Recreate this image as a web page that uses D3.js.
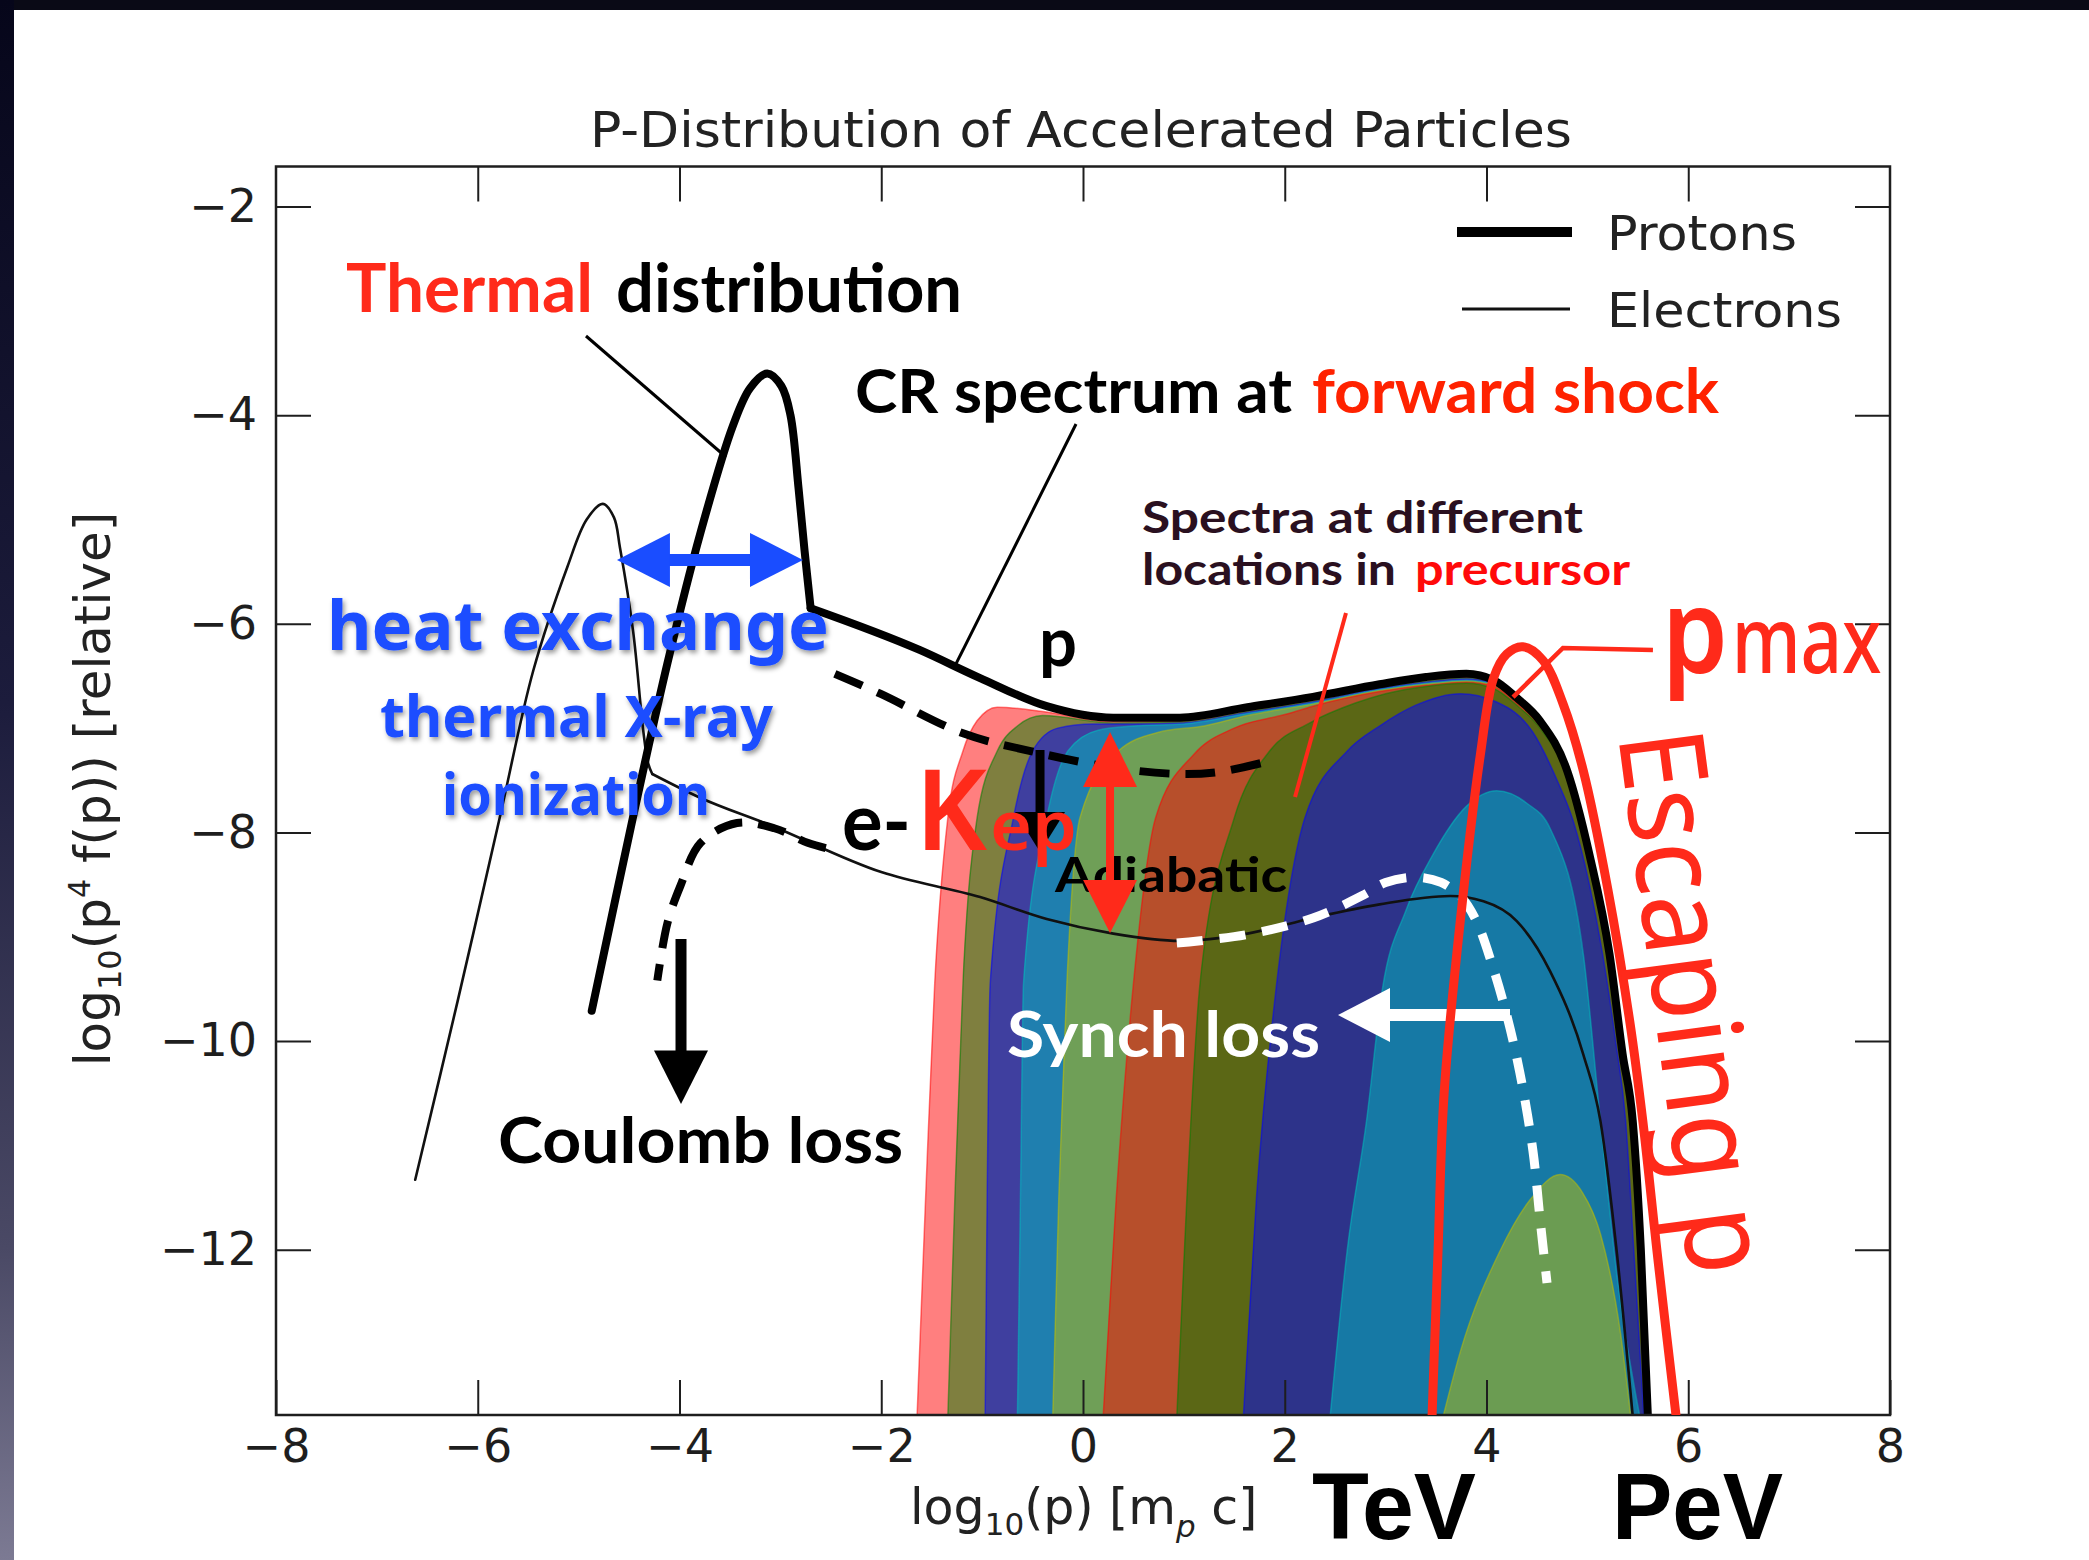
<!DOCTYPE html>
<html>
<head>
<meta charset="utf-8">
<script src="https://cdn.jsdelivr.net/npm/d3@7"></script>
<style>
  html, body { margin: 0; padding: 0; background: #fff; }
  svg { display: block; }
</style>
</head>
<body>
<svg id="chart" width="2089" height="1560"></svg>
<script>
// ---------- data: log10(p) [m_p c] vs log10(p^4 f(p)) ----------
const xTicks = [-8, -6, -4, -2, 0, 2, 4, 6, 8];
const yTicks = [-12, -10, -8, -6, -4, -2];

// proton spectrum at the forward shock (thermal peak + non-thermal tail)
const protonThermal = [[-4.87,-9.71],[-4.46,-7.85],[-4.12,-6.38],[-3.79,-5.12],[-3.47,-4.10],[-3.30,-3.74],[-3.13,-3.60],[-2.99,-3.72],[-2.90,-4.00],[-2.82,-4.70],[-2.76,-5.30],[-2.70,-5.85]];
const protonTail = [[-2.70,-5.85],[-1.62,-6.25],[-1.02,-6.52],[-0.36,-6.79],[0.30,-6.90],[0.96,-6.90],[1.63,-6.80],[2.28,-6.70],[2.94,-6.58],[3.40,-6.51],[3.80,-6.48],[4.07,-6.54],[4.30,-6.71],[4.53,-6.93],[4.80,-7.41],[5.02,-8.21],[5.22,-9.17],[5.35,-10.13],[5.45,-10.77],[5.53,-12.00],[5.60,-13.60]];

// electron spectrum at the forward shock
const electronThermal = [[-6.62,-11.33],[-6.20,-9.62],[-5.78,-7.85],[-5.45,-6.45],[-5.11,-5.45],[-4.92,-5.00],[-4.76,-4.85],[-4.65,-4.98],[-4.59,-5.27],[-4.46,-6.07],[-4.36,-7.02],[-4.31,-7.34],[-4.27,-7.44]];
const electronTail = [[-4.27,-7.44],[-3.79,-7.67],[-3.13,-7.92],[-2.00,-8.38],[-1.02,-8.62],[-0.36,-8.83],[0.30,-8.97],[0.96,-9.04],[1.63,-8.97],[2.28,-8.82],[2.94,-8.69],[3.64,-8.61],[3.97,-8.66],[4.30,-8.85],[4.63,-9.33],[4.96,-10.13],[5.13,-10.77],[5.29,-12.01],[5.45,-13.60]];

// proton spectra at successive locations upstream in the precursor
const precursor1 = [[-1.645,-13.6],[-1.56,-11.5],[-1.47,-9.45],[-1.34,-7.86],[-1.19,-7.22],[-1.05,-6.93],[-0.85,-6.80],[-0.40,-6.84],[0.30,-6.94],[1.00,-6.93],[1.63,-6.83],[2.28,-6.73],[2.94,-6.60],[3.40,-6.54],[3.80,-6.51],[4.07,-6.57],[4.30,-6.74],[4.53,-6.96],[4.80,-7.44],[5.02,-8.24],[5.22,-9.20],[5.35,-10.16],[5.45,-10.80],[5.52,-12.0],[5.585,-13.6]];
const precursor2 = [[-1.34,-13.6],[-1.27,-11.5],[-1.19,-9.45],[-1.05,-7.86],[-0.85,-7.22],[-0.65,-6.98],[-0.40,-6.88],[0.30,-6.95],[1.00,-6.94],[1.63,-6.84],[2.28,-6.74],[2.94,-6.61],[3.40,-6.55],[3.80,-6.52],[4.07,-6.57],[4.30,-6.74],[4.53,-6.96],[4.80,-7.44],[5.02,-8.24],[5.22,-9.20],[5.35,-10.16],[5.45,-10.80],[5.52,-12.0],[5.585,-13.6]];
const precursor3 = [[-0.97,-13.6],[-0.95,-11.5],[-0.92,-9.45],[-0.69,-7.86],[-0.50,-7.22],[-0.25,-7.00],[0.10,-6.96],[0.50,-6.96],[1.00,-6.95],[1.63,-6.85],[2.28,-6.75],[2.94,-6.62],[3.40,-6.56],[3.80,-6.53],[4.07,-6.57],[4.30,-6.74],[4.53,-6.96],[4.80,-7.44],[5.02,-8.24],[5.22,-9.20],[5.35,-10.16],[5.45,-10.80],[5.52,-12.0],[5.585,-13.6]];
const precursor4 = [[-0.65,-13.6],[-0.62,-11.5],[-0.59,-9.45],[-0.36,-7.86],[-0.15,-7.22],[0.15,-7.02],[0.50,-6.98],[1.00,-6.96],[1.63,-6.86],[2.28,-6.76],[2.94,-6.63],[3.40,-6.57],[3.80,-6.54],[4.07,-6.58],[4.30,-6.74],[4.53,-6.96],[4.80,-7.44],[5.02,-8.24],[5.22,-9.20],[5.35,-10.16],[5.45,-10.80],[5.52,-12.0],[5.585,-13.6]];
const precursor5 = [[-0.30,-13.6],[-0.24,-11.5],[-0.16,-9.45],[-0.03,-7.86],[0.35,-7.22],[0.75,-7.04],[1.20,-6.98],[1.63,-6.88],[2.28,-6.77],[2.94,-6.64],[3.40,-6.58],[3.80,-6.55],[4.07,-6.59],[4.30,-6.75],[4.53,-6.97],[4.80,-7.44],[5.02,-8.24],[5.22,-9.20],[5.35,-10.16],[5.45,-10.80],[5.52,-12.0],[5.585,-13.6]];
const precursor6 = [[0.20,-13.6],[0.33,-11.5],[0.50,-9.45],[0.72,-7.86],[1.10,-7.25],[1.50,-7.00],[2.00,-6.87],[2.28,-6.79],[2.94,-6.65],[3.40,-6.59],[3.80,-6.56],[4.07,-6.60],[4.30,-6.76],[4.53,-6.98],[4.80,-7.45],[5.02,-8.24],[5.22,-9.20],[5.35,-10.16],[5.45,-10.80],[5.52,-12.0],[5.585,-13.6]];
const precursor7 = [[0.93,-13.6],[1.03,-11.5],[1.16,-9.45],[1.50,-7.86],[1.85,-7.22],[2.25,-6.95],[2.70,-6.76],[3.00,-6.67],[3.40,-6.60],[3.80,-6.57],[4.07,-6.62],[4.30,-6.78],[4.53,-7.00],[4.80,-7.46],[5.02,-8.25],[5.22,-9.20],[5.35,-10.16],[5.45,-10.80],[5.52,-12.0],[5.585,-13.6]];
const precursor8 = [[1.59,-13.6],[1.72,-11.5],[1.92,-9.45],[2.20,-7.86],[2.62,-7.22],[2.94,-6.98],[3.30,-6.78],[3.74,-6.67],[4.10,-6.75],[4.46,-7.04],[4.70,-7.50],[4.86,-7.89],[5.02,-8.50],[5.15,-9.16],[5.28,-10.00],[5.38,-10.77],[5.46,-12.0],[5.56,-13.6]];
const precursor9 = [[2.45,-13.6],[2.62,-12.0],[2.81,-10.77],[2.97,-9.49],[3.20,-8.75],[3.47,-8.21],[3.80,-7.75],[4.10,-7.60],[4.40,-7.72],[4.63,-7.96],[4.96,-9.17],[5.13,-10.77],[5.30,-12.3],[5.52,-13.6]];
const precursor10 = [[3.57,-13.6],[3.74,-12.98],[4.13,-12.02],[4.45,-11.50],[4.73,-11.28],[4.95,-11.45],[5.13,-11.85],[5.33,-12.81],[5.43,-13.6]];
const precursorColors = ['#ff0000','#008000','#0000ff','#00bfbf','#bfbf00','#ff0000','#008000','#0000ff','#00bfbf','#bfbf00'];

// loss tracks and the escaping population
const adiabaticTrack = [[-2.46,-6.48],[-2.01,-6.67],[-1.19,-7.05],[-0.52,-7.22],[0.30,-7.38],[0.96,-7.44],[1.35,-7.42],[1.83,-7.32]];
const coulombTrack = [[-2.55,-8.15],[-2.73,-8.10],[-3.06,-7.96],[-3.43,-7.91],[-3.79,-8.10],[-3.99,-8.51],[-4.12,-8.87],[-4.22,-9.42]];
const synchTrack = [[0.93,-9.06],[1.62,-8.98],[2.28,-8.82],[2.78,-8.60],[3.00,-8.48],[3.30,-8.43],[3.55,-8.48],[3.75,-8.62],[3.90,-8.85],[4.05,-9.25],[4.20,-9.75],[4.33,-10.30],[4.46,-11.05],[4.53,-11.70],[4.60,-12.32]];
const escapingP = [[3.46,-13.60],[3.52,-12.00],[3.58,-10.50],[3.74,-8.85],[3.94,-7.25],[4.07,-6.52],[4.20,-6.29],[4.36,-6.22],[4.56,-6.35],[4.76,-6.77],[4.96,-7.41],[5.20,-8.53],[5.42,-9.81],[5.55,-10.77],[5.70,-12.10],[5.88,-13.60]];

// ---------- layout ----------
const W = 2089, H = 1560;
const plot = { left: 276, right: 1890, top: 166.5, bottom: 1415 };
const x = d3.scaleLinear().domain([-8, 8]).range([plot.left, plot.right]);
const y = d3.scaleLinear().domain([-13.585, -1.616]).range([plot.bottom, plot.top]);

const axisFont = "'DejaVu Sans', sans-serif";
const noteFont = "Lato, 'Open Sans', sans-serif";
const blueFont = "'Noto Sans', 'Open Sans', sans-serif";
const redFont = "'Noto Sans', 'Liberation Sans', sans-serif";
const RED = '#ff2a1a';
const BLUE = '#1a4dff';

const svg = d3.select('#chart');
const defs = svg.append('defs');
defs.append('clipPath').attr('id', 'plotClip')
  .append('rect').attr('x', plot.left).attr('y', plot.top)
  .attr('width', plot.right - plot.left).attr('height', plot.bottom - plot.top);
const grad = defs.append('linearGradient').attr('id', 'edgeGrad')
  .attr('x1', 0).attr('y1', 0).attr('x2', 0).attr('y2', 1);
[[0, '#06061a'], [0.45, '#1c1c3c'], [0.8, '#4a4965'], [1, '#7c7a93']]
  .forEach(([o, c]) => grad.append('stop').attr('offset', o).attr('stop-color', c));
const shadow = defs.append('filter').attr('id', 'blueShadow')
  .attr('x', '-10%').attr('y', '-40%').attr('width', '130%').attr('height', '180%');
shadow.append('feDropShadow').attr('dx', 2).attr('dy', 3).attr('stdDeviation', 2.5)
  .attr('flood-color', '#000').attr('flood-opacity', 0.4);

// page background with the dark slide edges
svg.append('rect').attr('width', W).attr('height', H).attr('fill', '#fff');
svg.append('rect').attr('x', 0).attr('y', 0).attr('width', W).attr('height', 10).attr('fill', '#0a0a16');
svg.append('rect').attr('x', 0).attr('y', 0).attr('width', 14).attr('height', H).attr('fill', 'url(#edgeGrad)');

// ---------- precursor spectra (stacked translucent fills) ----------
const area = d3.area()
  .x(d => x(d[0])).y0(plot.bottom).y1(d => y(d[1]))
  .curve(d3.curveMonotoneX);
const fills = svg.append('g').attr('clip-path', 'url(#plotClip)');
const precursorSpectra = [precursor1, precursor2, precursor3, precursor4, precursor5,
                          precursor6, precursor7, precursor8, precursor9, precursor10];
precursorSpectra.forEach((s, i) => {
  fills.append('path').attr('d', area(s))
    .attr('fill', precursorColors[i]).attr('fill-opacity', 0.5)
    .attr('stroke', precursorColors[i]).attr('stroke-opacity', 0.5).attr('stroke-width', 1.5);
});

// ---------- spectra lines ----------
const smooth = d3.line().x(d => x(d[0])).y(d => y(d[1])).curve(d3.curveCatmullRom.alpha(0.5));
const mono = d3.line().x(d => x(d[0])).y(d => y(d[1])).curve(d3.curveMonotoneX);
const lines = svg.append('g').attr('clip-path', 'url(#plotClip)')
  .attr('fill', 'none').attr('stroke-linejoin', 'round').attr('stroke-linecap', 'round');

lines.append('path').attr('d', smooth(electronThermal)).attr('stroke', '#111').attr('stroke-width', 2.6);
lines.append('path').attr('d', mono(electronTail)).attr('stroke', '#111').attr('stroke-width', 2.6);
lines.append('path').attr('d', smooth(protonThermal)).attr('stroke', '#000').attr('stroke-width', 8);
lines.append('path').attr('d', mono(protonTail)).attr('stroke', '#000').attr('stroke-width', 8);

// loss tracks
lines.append('path').attr('d', smooth(adiabaticTrack)).attr('stroke', '#000')
  .attr('stroke-width', 8).attr('stroke-linecap', 'butt').attr('stroke-dasharray', '30 16');
lines.append('path').attr('d', smooth(coulombTrack)).attr('stroke', '#000')
  .attr('stroke-width', 8).attr('stroke-linecap', 'butt').attr('stroke-dasharray', '28 16');
lines.append('path').attr('d', smooth(synchTrack)).attr('stroke', '#fff')
  .attr('stroke-width', 9).attr('stroke-linecap', 'butt').attr('stroke-dasharray', '26 17');

// ---------- axes ----------
const axisColor = '#1e1e1e';
function styleAxis(g) {
  g.select('.domain').remove();
  g.attr('font-family', axisFont).attr('font-size', 46).attr('color', axisColor);
  g.selectAll('.tick line').attr('stroke-width', 2);
}
svg.append('g').attr('transform', `translate(0,${plot.bottom})`)
  .call(d3.axisBottom(x).tickValues(xTicks).tickSizeInner(-35).tickSizeOuter(0).tickPadding(14))
  .call(styleAxis);
svg.append('g').attr('transform', `translate(${plot.left},0)`)
  .call(d3.axisLeft(y).tickValues(yTicks).tickSizeInner(-35).tickSizeOuter(0).tickPadding(19))
  .call(styleAxis);
svg.append('g').attr('transform', `translate(0,${plot.top})`)
  .call(d3.axisTop(x).tickValues(xTicks.slice(1, -1)).tickSizeInner(-35).tickSizeOuter(0).tickFormat(''))
  .call(styleAxis);
svg.append('g').attr('transform', `translate(${plot.right},0)`)
  .call(d3.axisRight(y).tickValues(yTicks).tickSizeInner(-35).tickSizeOuter(0).tickFormat(''))
  .call(styleAxis);
svg.append('rect').attr('x', plot.left).attr('y', plot.top)
  .attr('width', plot.right - plot.left).attr('height', plot.bottom - plot.top)
  .attr('fill', 'none').attr('stroke', axisColor).attr('stroke-width', 2.5);

// title and axis labels
function label(parent, txt, px, py, o = {}) {
  const t = parent.append('text').attr('x', px).attr('y', py).text(txt)
    .attr('font-family', o.family || noteFont).attr('font-size', o.size || 40)
    .attr('font-weight', o.weight || 400).attr('fill', o.fill || '#000');
  if (o.len) t.attr('textLength', o.len).attr('lengthAdjust', 'spacingAndGlyphs');
  if (o.anchor) t.attr('text-anchor', o.anchor);
  if (o.filter) t.attr('filter', o.filter);
  return t;
}
label(svg, 'P-Distribution of Accelerated Particles', 590, 147,
  { family: axisFont, size: 50, fill: '#222', len: 982 });

const xl = svg.append('text').attr('x', 910).attr('y', 1524)
  .attr('font-family', axisFont).attr('font-size', 49).attr('fill', '#222');
xl.append('tspan').text('log');
xl.append('tspan').text('10').attr('font-size', 31).attr('dy', 11);
xl.append('tspan').text('(p) [m').attr('dy', -11);
xl.append('tspan').text('p').attr('font-size', 31).attr('font-style', 'italic').attr('dy', 13);
xl.append('tspan').text(' c]').attr('dy', -13);

const yl = svg.append('text').attr('transform', 'translate(110,789) rotate(-90)')
  .attr('text-anchor', 'middle')
  .attr('font-family', axisFont).attr('font-size', 50).attr('fill', '#222');
yl.append('tspan').text('log');
yl.append('tspan').text('10').attr('font-size', 32).attr('dy', 11);
yl.append('tspan').text('(p').attr('dy', -11);
yl.append('tspan').text('4').attr('font-size', 30).attr('dy', -20);
yl.append('tspan').text(' f(p)) [relative]').attr('dy', 20);

// legend
svg.append('line').attr('x1', 1457).attr('x2', 1572).attr('y1', 232).attr('y2', 232)
  .attr('stroke', '#000').attr('stroke-width', 10);
svg.append('line').attr('x1', 1462).attr('x2', 1570).attr('y1', 309).attr('y2', 309)
  .attr('stroke', '#111').attr('stroke-width', 3);
label(svg, 'Protons', 1607, 250, { family: axisFont, size: 48, fill: '#222', len: 190 });
label(svg, 'Electrons', 1607, 327, { family: axisFont, size: 48, fill: '#222', len: 235 });

// ---------- annotations ----------
const notes = svg.append('g');
const seg = (pts, stroke, w) => notes.append('path')
  .attr('d', d3.line().x(d => x(d[0])).y(d => y(d[1]))(pts))
  .attr('fill', 'none').attr('stroke', stroke).attr('stroke-width', w);
const poly = (pts, fill) => notes.append('path')
  .attr('d', 'M' + pts.map(p => p.join(',')).join('L') + 'Z').attr('fill', fill);

// leader lines
seg([[-4.927, -3.241], [-3.539, -4.401]], '#000', 3);
seg([[-0.069, -4.085], [-1.269, -6.404]], '#000', 3);
seg([[2.607, -5.896], [2.102, -7.660]], RED, 4);

// vertical arrow with head at the bottom (pixel half-width hw)
function downArrow(xd, yTop, yBase, yTip, shaft, hw, color) {
  const px = x(xd);
  notes.append('line').attr('x1', px).attr('x2', px).attr('y1', y(yTop)).attr('y2', y(yBase) + 1)
    .attr('stroke', color).attr('stroke-width', shaft);
  poly([[px - hw, y(yBase)], [px + hw, y(yBase)], [px, y(yTip)]], color);
}

// adiabatic step marker beneath the Kep label
downArrow(-0.426, -7.21, -7.804, -8.188, 9, 25, '#000');

// Coulomb loss arrow
downArrow(-3.985, -9.022, -10.09, -10.604, 11, 27, '#000');

// heat exchange double arrow (blue)
{
  const py = y(-5.388), xa = x(-4.620), xb = x(-2.776), hl = 53, hw = 27;
  notes.append('line').attr('x1', xa + hl - 2).attr('x2', xb - hl + 2).attr('y1', py).attr('y2', py)
    .attr('stroke', BLUE).attr('stroke-width', 12);
  poly([[xa, py], [xa + hl, py - hw], [xa + hl, py + hw]], BLUE);
  poly([[xb, py], [xb - hl, py - hw], [xb - hl, py + hw]], BLUE);
}

// synchrotron loss arrow (white, pointing left)
{
  const py = y(-9.751), xt = x(2.528), xe = x(4.233), hl = 52, hw = 27;
  notes.append('line').attr('x1', xt + hl - 2).attr('x2', xe).attr('y1', py).attr('y2', py)
    .attr('stroke', '#fff').attr('stroke-width', 12);
  poly([[xt, py], [xt + hl, py - hw], [xt + hl, py + hw]], '#fff');
}

// black annotation text
label(notes, 'Thermal', x(-7.306), y(-3.011), { size: 66, weight: 700, fill: RED, len: 247 });
label(notes, 'distribution', x(-4.629), y(-3.011), { size: 66, weight: 700, len: 346 });
label(notes, 'CR spectrum at', x(-2.260), y(-3.979), { size: 62, weight: 700, len: 437 });
label(notes, 'forward shock', x(2.270), y(-3.979), { size: 62, weight: 700, fill: '#ff2200', len: 407 });
label(notes, 'Spectra at different', x(0.585), y(-5.130), { size: 44, weight: 700, fill: '#2a1020', len: 441 });
label(notes, 'locations in', x(0.585), y(-5.628), { size: 44, weight: 700, fill: '#2a1020', len: 254 });
label(notes, 'precursor', x(3.291), y(-5.628), { size: 44, weight: 700, fill: '#ff0a0a', len: 215 });
label(notes, 'p', x(-0.436), y(-6.405), { size: 68, weight: 700, len: 38 });
label(notes, 'Adiabatic', x(-0.277), y(-8.569), { size: 48, weight: 700, len: 232 });
label(notes, 'Coulomb loss', x(-5.799), y(-11.170), { size: 64, weight: 700, len: 405 });
label(notes, 'Synch loss', x(-0.753), y(-10.153), { size: 64, weight: 700, fill: '#fff', len: 313 });

// e-Kep label
label(notes, 'e-', x(-2.389), y(-8.168), { size: 80, weight: 700, len: 69 });
label(notes, 'K', x(-1.665), y(-8.168), { family: redFont, size: 112, weight: 600, fill: RED, len: 72 });
label(notes, 'ep', x(-0.922), y(-8.168), { family: redFont, size: 68, weight: 600, fill: RED, len: 87 });

// blue annotation text
label(notes, 'heat exchange', x(-7.494), y(-6.251), { family: blueFont, size: 68, weight: 700, fill: BLUE, len: 502, filter: 'url(#blueShadow)' });
label(notes, 'thermal X-ray', x(-6.969), y(-7.085), { family: blueFont, size: 57, weight: 700, fill: BLUE, len: 393, filter: 'url(#blueShadow)' });
label(notes, 'ionization', x(-6.354), y(-7.833), { family: blueFont, size: 57, weight: 700, fill: BLUE, len: 268, filter: 'url(#blueShadow)' });

// red double arrow across the e-p gap
{
  const px = x(0.268), hw = 27;
  notes.append('line').attr('x1', px).attr('x2', px).attr('y1', y(-7.565) - 2).attr('y2', y(-8.456) + 2)
    .attr('stroke', RED).attr('stroke-width', 8);
  poly([[px, y(-7.037)], [px - hw, y(-7.565)], [px + hw, y(-7.565)]], RED);
  poly([[px, y(-8.964)], [px - hw, y(-8.456)], [px + hw, y(-8.456)]], RED);
}

// escaping protons near p_max
notes.append('path').attr('d', smooth(escapingP)).attr('fill', 'none')
  .attr('stroke', RED).attr('stroke-width', 9).attr('clip-path', 'url(#plotClip)');
seg([[4.263, -6.702], [4.758, -6.232], [5.650, -6.251]], RED, 4.5);
label(notes, 'p', x(5.740), y(-6.472), { family: redFont, size: 118, weight: 600, fill: RED, len: 66 });
label(notes, 'max', x(6.430), y(-6.472), { family: redFont, size: 92, weight: 500, fill: RED, len: 150 });
notes.append('text').text('Escaping p')
  .attr('transform', `translate(${x(5.304)},${y(-7.066)}) rotate(82.5)`)
  .attr('font-family', redFont).attr('font-size', 118).attr('fill', RED)
  .attr('textLength', 548).attr('lengthAdjust', 'spacingAndGlyphs');

// energy markers under the axis
label(svg, 'TeV', 1312, 1539, { family: "'Liberation Sans Narrow', 'Liberation Sans', sans-serif", size: 94, weight: 700, len: 164 });
label(svg, 'PeV', 1612, 1539, { family: "'Liberation Sans Narrow', 'Liberation Sans', sans-serif", size: 94, weight: 700, len: 171 });
</script>
</body>
</html>
